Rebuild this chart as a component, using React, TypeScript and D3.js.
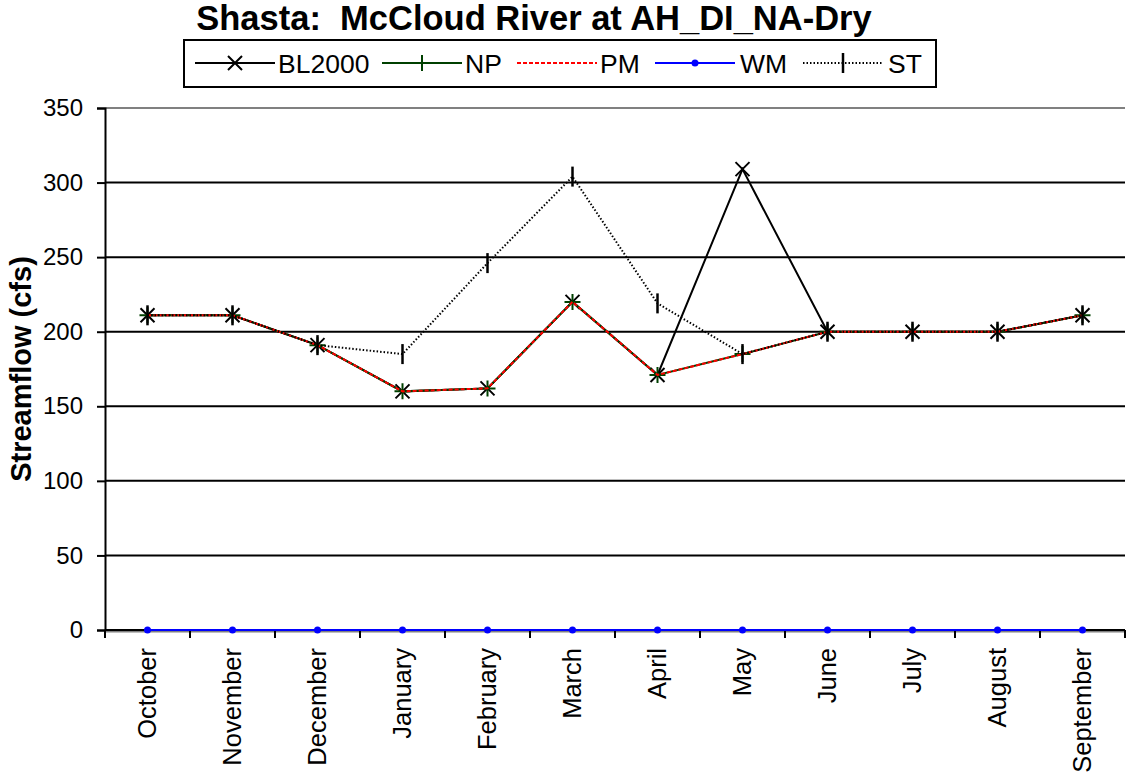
import React, { useEffect, useRef } from 'react';
import * as d3 from 'd3';

const months = ['October', 'November', 'December', 'January', 'February', 'March', 'April', 'May', 'June', 'July', 'August', 'September'];
const bl2000 = [211, 211, 191, 160, 162, 220, 171, 309, 200, 200, 200, 211];
const np = [211, 211, 191, 160, 162, 220, 171, 185, 200, 200, 200, 211];
const pm = [211, 211, 191, 160, 162, 220, 171, 185, 200, 200, 200, 211];
const wm = [0, 0, 0, 0, 0, 0, 0, 0, 0, 0, 0, 0];
const st = [211, 211, 191, 185, 246, 304, 219, 185, 200, 200, 200, 211];
const yTicks = [0, 50, 100, 150, 200, 250, 300, 350];

const series = [
  { name: 'BL2000', values: bl2000, color: '#000000', dash: null, marker: 'x' },
  { name: 'NP', values: np, color: '#004000', dash: null, marker: 'plus' },
  { name: 'PM', values: pm, color: '#ff0000', dash: '4,2', marker: 'none' },
  { name: 'WM', values: wm, color: '#0000ff', dash: null, marker: 'dot' },
  { name: 'ST', values: st, color: '#000000', dash: '1.5,2', marker: 'bar' },
];

const width = 1126;
const height = 783;
const margin = { top: 108, right: 1, bottom: 153, left: 105 };
const font = 'Liberation Sans, Arial, sans-serif';

function drawMarker(g, kind, x, y, color) {
  if (kind === 'x') {
    const s = 7;
    g.append('path')
      .attr('d', `M${x - s},${y - s}L${x + s},${y + s}M${x - s},${y + s}L${x + s},${y - s}`)
      .attr('stroke', color).attr('stroke-width', 2).attr('fill', 'none');
  } else if (kind === 'plus') {
    const s = 8;
    g.append('path')
      .attr('d', `M${x - s},${y}L${x + s},${y}M${x},${y - s}L${x},${y + s}`)
      .attr('stroke', color).attr('stroke-width', 2).attr('fill', 'none');
  } else if (kind === 'bar') {
    g.append('path')
      .attr('d', `M${x},${y - 10}L${x},${y + 10}`)
      .attr('stroke', color).attr('stroke-width', 2.5).attr('fill', 'none');
  } else if (kind === 'dot') {
    g.append('circle').attr('cx', x).attr('cy', y).attr('r', 3.5).attr('fill', color);
  }
}

export default function App() {
  const svgRef = useRef(null);

  useEffect(() => {
    const svg = d3.select(svgRef.current);
    svg.selectAll('*').remove();
    svg.attr('width', width).attr('height', height);

    const x = d3.scaleBand().domain(months).range([margin.left, width - margin.right]);
    const y = d3.scaleLinear().domain([0, 350]).range([height - margin.bottom, margin.top]);

    // plot border (gray) and gridlines
    svg.append('line')
      .attr('x1', margin.left).attr('x2', width - margin.right)
      .attr('y1', y(350)).attr('y2', y(350))
      .attr('stroke', '#808080').attr('stroke-width', 2);
    svg.append('g')
      .selectAll('line')
      .data(yTicks.filter((t) => t > 0 && t < 350))
      .enter()
      .append('line')
      .attr('x1', margin.left).attr('x2', width - margin.right)
      .attr('y1', (d) => y(d)).attr('y2', (d) => y(d))
      .attr('stroke', '#000').attr('stroke-width', 2);

    // y axis
    const yAxis = svg.append('g')
      .attr('transform', `translate(${margin.left},0)`)
      .call(d3.axisLeft(y).tickValues(yTicks).tickSize(8).tickPadding(14));
    yAxis.select('.domain').attr('stroke', '#000').attr('stroke-width', 2);
    yAxis.selectAll('.tick line').attr('stroke', '#000').attr('stroke-width', 2);
    yAxis.selectAll('.tick text').attr('font-family', font).attr('font-size', 24).attr('fill', '#000');

    // x axis
    const xAxis = svg.append('g')
      .attr('transform', `translate(0,${y(0)})`)
      .call(d3.axisBottom(x).tickSize(0));
    xAxis.select('.domain').remove();
    svg.append('line')
      .attr('x1', margin.left).attr('x2', width - margin.right)
      .attr('y1', y(0) + 1).attr('y2', y(0) + 1)
      .attr('stroke', '#808080').attr('stroke-width', 3);
    svg.append('line')
      .attr('x1', margin.left).attr('x2', width - margin.right)
      .attr('y1', y(0)).attr('y2', y(0))
      .attr('stroke', '#000').attr('stroke-width', 2);
    svg.append('g')
      .selectAll('line')
      .data(d3.range(months.length + 1))
      .enter()
      .append('line')
      .attr('x1', (i) => margin.left + i * x.step())
      .attr('x2', (i) => margin.left + i * x.step())
      .attr('y1', y(0)).attr('y2', y(0) + 8)
      .attr('stroke', '#000').attr('stroke-width', 2);
    xAxis.selectAll('.tick text')
      .attr('font-family', font).attr('font-size', 25.5).attr('fill', '#000')
      .attr('text-anchor', 'end')
      .attr('transform', 'rotate(-90)')
      .attr('x', -18).attr('y', 0).attr('dy', '0.35em');

    // series
    const line = d3.line()
      .x((d, i) => x(months[i]) + x.bandwidth() / 2)
      .y((d) => y(d));
    series.forEach((s) => {
      const g = svg.append('g');
      g.append('path')
        .datum(s.values)
        .attr('d', line)
        .attr('fill', 'none')
        .attr('stroke', s.color)
        .attr('stroke-width', 2)
        .attr('stroke-dasharray', s.dash);
      s.values.forEach((v, i) => {
        drawMarker(g, s.marker, x(months[i]) + x.bandwidth() / 2, y(v), s.color);
      });
    });

    // title
    svg.append('text')
      .attr('x', 534).attr('y', 30)
      .attr('text-anchor', 'middle')
      .attr('font-family', font).attr('font-weight', 'bold').attr('font-size', 34.5)
      .style('white-space', 'pre')
      .text('Shasta:  McCloud River at AH_DI_NA-Dry');

    // y label
    svg.append('text')
      .attr('transform', `translate(31,${(y(0) + y(350)) / 2}) rotate(-90)`)
      .attr('text-anchor', 'middle')
      .attr('font-family', font).attr('font-weight', 'bold').attr('font-size', 29)
      .text('Streamflow (cfs)');

    // legend
    const leg = svg.append('g');
    leg.append('rect')
      .attr('x', 184).attr('y', 40).attr('width', 752).attr('height', 47)
      .attr('fill', '#fff').attr('stroke', '#000').attr('stroke-width', 2);
    const legX = [195, 382, 517, 655, 803];
    const legText = [278, 465, 600, 740, 888];
    series.forEach((s, i) => {
      const lx = legX[i];
      const ly = 63;
      leg.append('line')
        .attr('x1', lx).attr('x2', lx + 80).attr('y1', ly).attr('y2', ly)
        .attr('stroke', s.color).attr('stroke-width', 2)
        .attr('stroke-dasharray', s.dash);
      drawMarker(leg, s.marker, lx + 40, ly, s.color);
      leg.append('text')
        .attr('x', legText[i]).attr('y', ly).attr('dy', '0.36em')
        .attr('font-family', font).attr('font-size', 26.5)
        .text(s.name);
    });
  }, []);

  return <svg ref={svgRef} style={{ display: 'block', position: 'absolute', left: 0, top: 0 }}></svg>;
}
